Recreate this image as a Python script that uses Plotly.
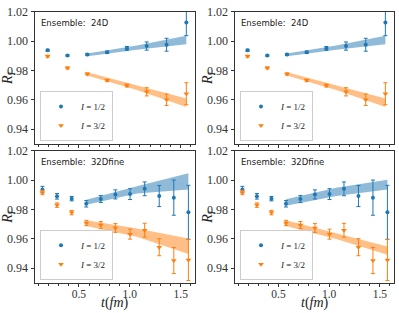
import plotly.graph_objects as go

# ---------------- data ----------------
t_24D = [0.194, 0.389, 0.583, 0.778, 0.972, 1.166, 1.361, 1.555]
R12_24D = [0.9938, 0.9902, 0.9909, 0.9924, 0.9951, 0.9967, 0.9976, 1.0127]
E12_24D = [0.0007, 0.0005, 0.0007, 0.0008, 0.0013, 0.0028, 0.0044, 0.0089]
R32_24D = [0.9898, 0.9818, 0.9777, 0.9733, 0.9698, 0.9655, 0.9601, 0.9642]
E32_24D = [0.0007, 0.0007, 0.0007, 0.0008, 0.0010, 0.0028, 0.0039, 0.0075]

t_32D = [0.143, 0.286, 0.430, 0.573, 0.716, 0.859, 1.003, 1.146, 1.289, 1.432, 1.575]
R12_32D = [0.9935, 0.9889, 0.9873, 0.9838, 0.9871, 0.9902, 0.9904, 0.9940, 0.9891, 0.9880, 0.9780]
E12_32D = [0.0022, 0.0019, 0.0015, 0.0022, 0.0024, 0.0031, 0.0037, 0.0047, 0.0072, 0.0120, 0.0184]
R32_32D = [0.9915, 0.9829, 0.9778, 0.9707, 0.9693, 0.9673, 0.9631, 0.9658, 0.9542, 0.9451, 0.9455]
E32_32D = [0.0015, 0.0015, 0.0015, 0.0018, 0.0024, 0.0030, 0.0034, 0.0047, 0.0058, 0.0089, 0.0140]

# fit bands (start, middle, end of fit window)
band_t_24D = [0.583, 1.07, 1.555]
b12_lo_24D = [0.9898, 0.9942, 0.9980]
b12_hi_24D = [0.9917, 0.9971, 1.0038]
b32_lo_24D = [0.9767, 0.9667, 0.9551]
b32_hi_24D = [0.9789, 0.9700, 0.9610]

band_t_32D = [0.573, 1.07, 1.575]
# left column fit
b12_lo_32D_L = [0.9831, 0.9909, 0.9935]
b12_hi_32D_L = [0.9865, 0.9958, 1.0047]
b32_lo_32D_L = [0.9687, 0.9613, 0.9495]
b32_hi_32D_L = [0.9725, 0.9669, 0.9602]
# right column fit
b12_lo_32D_R = [0.9825, 0.9891, 0.9935]
b12_hi_32D_R = [0.9869, 0.9947, 1.0002]
b32_lo_32D_R = [0.9687, 0.9598, 0.9491]
b32_hi_32D_R = [0.9725, 0.9635, 0.9547]

y_ticks = [0.94, 0.96, 0.98, 1.00, 1.02]
y_ticklabels = ["0.94", "0.96", "0.98", "1.00", "1.02"]
x_ticks = [0.5, 1.0, 1.5]
x_ticklabels = ["0.5", "1.0", "1.5"]
labels = ["<i>I</i> = 1/2", "<i>I</i> = 3/2"]
ensembles = ["Ensemble:  24D", "Ensemble:  32Dfine"]

# ---------------- styling ----------------
W, H = 399, 313
BLUE = "#1f77b4"
ORANGE = "#ff7f0e"
BLUE_F = "rgba(31,119,180,0.5)"
ORANGE_F = "rgba(255,127,14,0.5)"
SERIF = "Liberation Serif, DejaVu Serif, serif"
SANS = "DejaVu Sans, sans-serif"

def px_x(p):
    return p / W

def px_y(p):
    return 1 - p / H

xdom = {"L": [px_x(35), px_x(195)], "R": [px_x(235), px_x(394)]}
ydom = {"T": [px_y(140), px_y(5)], "B": [px_y(282), px_y(147)]}

panels = [
    ("L", "T", t_24D, R12_24D, E12_24D, R32_24D, E32_24D, band_t_24D,
     b12_lo_24D, b12_hi_24D, b32_lo_24D, b32_hi_24D, ensembles[0]),
    ("R", "T", t_24D, R12_24D, E12_24D, R32_24D, E32_24D, band_t_24D,
     b12_lo_24D, b12_hi_24D, b32_lo_24D, b32_hi_24D, ensembles[0]),
    ("L", "B", t_32D, R12_32D, E12_32D, R32_32D, E32_32D, band_t_32D,
     b12_lo_32D_L, b12_hi_32D_L, b32_lo_32D_L, b32_hi_32D_L, ensembles[1]),
    ("R", "B", t_32D, R12_32D, E12_32D, R32_32D, E32_32D, band_t_32D,
     b12_lo_32D_R, b12_hi_32D_R, b32_lo_32D_R, b32_hi_32D_R, ensembles[1]),
]

fig = go.Figure()
annotations = []
layout = dict(
    width=W, height=H, margin=dict(l=0, r=0, t=0, b=0),
    paper_bgcolor="white", plot_bgcolor="white", showlegend=True,
)

for i, (col, row, t, r12, e12, r32, e32, bt, lo12, hi12, lo32, hi32, ens) in enumerate(panels):
    k = i + 1
    xa = "x" if k == 1 else f"x{k}"
    ya = "y" if k == 1 else f"y{k}"
    lg = "legend" if k == 1 else f"legend{k}"

    fig.add_trace(go.Scatter(
        x=bt + bt[::-1], y=hi12 + lo12[::-1], fill="toself", fillcolor=BLUE_F,
        line=dict(width=0), mode="lines", hoverinfo="skip", showlegend=False,
        xaxis=xa, yaxis=ya))
    fig.add_trace(go.Scatter(
        x=bt + bt[::-1], y=hi32 + lo32[::-1], fill="toself", fillcolor=ORANGE_F,
        line=dict(width=0), mode="lines", hoverinfo="skip", showlegend=False,
        xaxis=xa, yaxis=ya))
    fig.add_trace(go.Scatter(
        x=t, y=r12, mode="markers", showlegend=False,
        marker=dict(color=BLUE, size=4, symbol="circle"),
        error_y=dict(type="data", array=e12, color=BLUE, thickness=1, width=2),
        xaxis=xa, yaxis=ya))
    fig.add_trace(go.Scatter(
        x=t, y=r32, mode="markers", showlegend=False,
        marker=dict(color=ORANGE, size=5, symbol="triangle-down"),
        error_y=dict(type="data", array=e32, color=ORANGE, thickness=1, width=2),
        xaxis=xa, yaxis=ya))
    # legend entries
    fig.add_trace(go.Scatter(
        x=[None], y=[None], mode="markers", name=labels[0], legend=lg,
        marker=dict(color=BLUE, size=4, symbol="circle"), xaxis=xa, yaxis=ya))
    fig.add_trace(go.Scatter(
        x=[None], y=[None], mode="markers", name=labels[1], legend=lg,
        marker=dict(color=ORANGE, size=5, symbol="triangle-down"), xaxis=xa, yaxis=ya))

    axkey_x = "xaxis" if k == 1 else f"xaxis{k}"
    axkey_y = "yaxis" if k == 1 else f"yaxis{k}"
    layout[axkey_x] = dict(
        domain=xdom[col], anchor=ya, range=[0.07, 1.64],
        tickvals=x_ticks, ticktext=x_ticklabels if row == "B" else ["", "", ""],
        ticks="outside", ticklen=3.5, tickwidth=0.8, tickcolor="#333",
        minor=dict(dtick=0.1, tick0=0, ticks="outside", ticklen=2, tickwidth=0.6, tickcolor="#333"),
        showline=True, linecolor="#333", linewidth=1, mirror=True,
        showgrid=False, zeroline=False, ticklabelstandoff=-3,
        tickfont=dict(family=SERIF, size=11.5, color="#333"),
    )
    layout[axkey_y] = dict(
        domain=ydom[row], anchor=xa, range=[0.93, 1.02],
        tickvals=y_ticks, ticktext=y_ticklabels,
        ticks="outside", ticklen=3.5, tickwidth=0.8, tickcolor="#333",
        showline=True, linecolor="#333", linewidth=1, mirror=True,
        showgrid=False, zeroline=False,
        tickfont=dict(family=SERIF, size=12, color="#333"),
    )
    x0 = xdom[col][0]
    ytop = ydom[row][1]
    ybot = ydom[row][0]
    layout[lg] = dict(
        x=x0 + px_x(5), y=ybot + 3 / H, xanchor="left", yanchor="bottom",
        bgcolor="rgba(255,255,255,0.8)", bordercolor="#cccccc", borderwidth=1,
        font=dict(family=SERIF, size=9, color="#222"),
        tracegroupgap=0, itemwidth=30,
    )
    annotations.append(dict(
        x=x0 + px_x(4), y=ytop - 4 / H, xref="paper", yref="paper",
        xanchor="left", yanchor="top", showarrow=False, text=ens,
        font=dict(family=SANS, size=8.5, color="#222")))
    annotations.append(dict(
        x=x0 - px_x(26), y=(ytop + ybot) / 2, xref="paper", yref="paper",
        xanchor="center", yanchor="middle", showarrow=False, textangle=-90,
        text="<i>R<sub>I</sub></i>", font=dict(family=SERIF, size=14, color="#222")))
    if row == "B":
        annotations.append(dict(
            x=(xdom[col][0] + xdom[col][1]) / 2, y=px_y(303), xref="paper", yref="paper",
            xanchor="center", yanchor="middle", showarrow=False,
            text="<i>t</i>(<i>fm</i>)", font=dict(family=SERIF, size=14, color="#222")))

layout["annotations"] = annotations
fig.update_layout(**layout)
fig.write_html(
    "out.html",
    config={"displayModeBar": False},
    post_script="document.body.style.margin='0';document.body.style.padding='0';"
                "document.documentElement.style.overflow='hidden';",
)
